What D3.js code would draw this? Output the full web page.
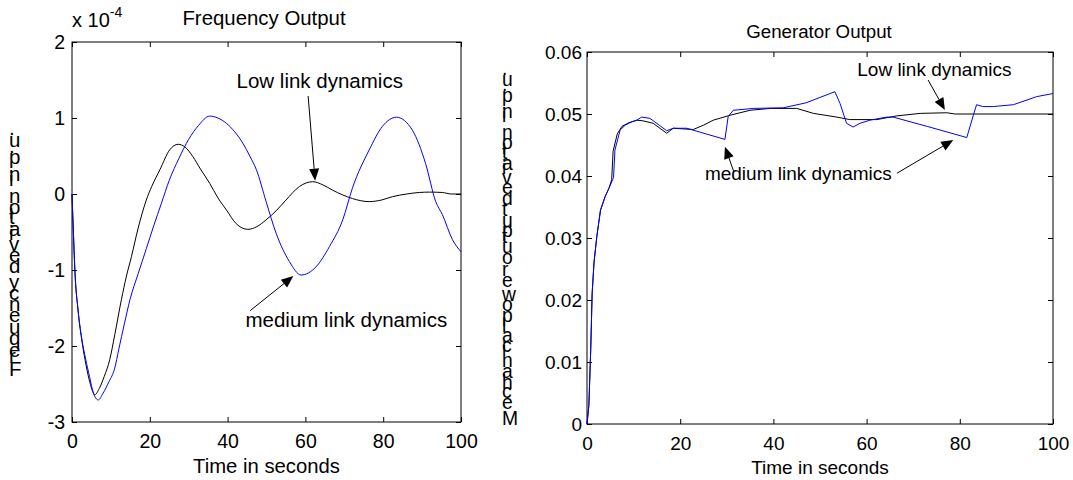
<!DOCTYPE html>
<html>
<head>
<meta charset="utf-8">
<script src="https://cdn.jsdelivr.net/npm/d3@7"></script>
<style>
  html, body { margin: 0; padding: 0; background: #fff; }
  svg { display: block; }
  text { font-family: "Liberation Sans", Arial, Helvetica, sans-serif; fill: #000; }
</style>
</head>
<body>
<svg id="chart" width="1073" height="480"></svg>
<script>
// ---- Frequency output (units of 1e-4) : [time s, deviation] ----
const freqLow = [
  [0,0],[0.4,-0.55],[0.8,-1.05],[1.6,-1.55],[2.6,-1.95],[3.6,-2.25],[4.6,-2.48],[5.9,-2.64],
  [7,-2.56],[8.3,-2.4],[9.7,-2.18],[11,-1.85],[12.7,-1.39],[14,-1.08],[15.3,-0.82],[17,-0.45],
  [19.1,-0.08],[20.5,0.1],[22.6,0.32],[25.1,0.58],[27.3,0.654],[29,0.62],[31.1,0.49],[33,0.33],
  [35.4,0.14],[37.5,-0.05],[39.7,-0.21],[42.2,-0.39],[45.2,-0.465],[47.5,-0.43],[49.9,-0.34],
  [52.5,-0.22],[55,-0.08],[58.5,0.1],[61.9,0.162],[64.5,0.12],[67,0.05],[69.5,-0.01],[72.1,-0.06],
  [76.4,-0.1],[79.5,-0.08],[82.4,-0.035],[86,0.0],[89.3,0.02],[92,0.025],[95.2,0.02],[97.5,0.0],[100,0]
];
const freqMedium = [
  [0,0],[0.35,-0.5],[0.7,-0.98],[1.5,-1.5],[2.5,-1.9],[3.5,-2.17],[4.5,-2.4],[5.5,-2.62],
  [6.75,-2.71],[8,-2.62],[9.5,-2.47],[11,-2.29],[12,-2.05],[13.5,-1.7],[14.9,-1.39],[17,-1.05],
  [19.1,-0.72],[21,-0.42],[23,-0.12],[25,0.18],[27.5,0.47],[30,0.72],[32.5,0.9],[35.4,1.025],
  [37.5,1.0],[39.7,0.93],[41.8,0.82],[43.9,0.67],[45.7,0.5],[47.4,0.32],[49.9,-0.1],[52.5,-0.52],
  [55.9,-0.89],[58.9,-1.066],[62.7,-0.96],[66.2,-0.69],[69.6,-0.34],[72.1,0.08],[76.4,0.58],
  [79.8,0.89],[83.4,1.01],[87.5,0.84],[90.9,0.4],[93.5,-0.1],[95.2,-0.27],[97.8,-0.6],[100,-0.76]
];

// ---- Generator (mechanical power) output : [time s, p.u.] ----
const genLow = [
  [0,0],[0.4,0.003],[0.8,0.012],[1.1,0.021],[1.5,0.026],[2.1,0.0302],[2.9,0.0345],[3.9,0.0367],
  [4.7,0.038],[5.3,0.0394],[5.6,0.044],[6.5,0.0468],[7.5,0.048],[9,0.0486],[10.7,0.049],[12,0.0489],
  [14.2,0.0485],[17.1,0.0469],[18.5,0.0477],[22.8,0.0475],[25,0.0482],[27.1,0.049],[30.7,0.0498],
  [35,0.0506],[39.3,0.0509],[45,0.0509],[48.6,0.0501],[53.6,0.0495],[56.4,0.0491],[62.2,0.0491],
  [66.5,0.0497],[71.5,0.0501],[77.2,0.0502],[79,0.05],[100,0.05]
];
const genMedium = [
  [0,0],[0.4,0.003],[0.8,0.012],[1.1,0.021],[1.5,0.026],[2.1,0.0302],[2.9,0.0345],[3.9,0.0367],
  [4.7,0.038],[5.5,0.0394],[5.7,0.0398],[6.0,0.0442],[7.1,0.0474],[8.2,0.0482],[9.5,0.0487],
  [10.7,0.049],[11.7,0.0495],[13.5,0.0493],[15.5,0.0482],[17.1,0.0473],[18.5,0.0477],[21.4,0.0477],
  [25.5,0.0468],[29.6,0.0459],[30.3,0.0496],[31.4,0.0506],[35.7,0.0509],[42.1,0.051],[47,0.0518],
  [53.2,0.0536],[54.3,0.0517],[55.7,0.0485],[57.1,0.0479],[58.6,0.0485],[60.7,0.049],[64.3,0.0495],
  [65.7,0.0495],[73,0.048],[81.5,0.0462],[82.9,0.0498],[83.6,0.0515],[84.9,0.0512],[87.2,0.0512],
  [91.5,0.0515],[96.5,0.0528],[100,0.0533]
];

// ---- Tick labels ----
const timeTicks = [0, 20, 40, 60, 80, 100];
const freqTicks = [-3, -2, -1, 0, 1, 2];
const genTicks = [0, 0.01, 0.02, 0.03, 0.04, 0.05, 0.06];

// ---- Annotation anchors (data units): text start, arrow tail, arrow tip ----
const freqNotes = [
  { label: "Low link dynamics", text: [42.3, 1.40], tail: [60.7, 1.29], tip: [62.5, 0.175] },
  { label: "medium link dynamics", text: [44.6, -1.755], tail: [45.8, -1.535], tip: [56.9, -1.08] }
];
const genNotes = [
  { label: "Low link dynamics", text: [58.0, 0.05613], arrows: [[[73.2, 0.05548], [76.8, 0.05065]]] },
  { label: "medium link dynamics", text: [25.3, 0.03935],
    arrows: [[[31.5, 0.0407], [29.6, 0.04473]], [[66.5, 0.04044], [78.6, 0.0458]]] }
];

const svg = d3.select("#chart");

function arrow(g, x1, y1, x2, y2) {
  const ang = Math.atan2(y2 - y1, x2 - x1);
  const L = 12, W = 5;
  const bx = x2 - L * Math.cos(ang), by = y2 - L * Math.sin(ang);
  g.append("line").attr("x1", x1).attr("y1", y1).attr("x2", bx).attr("y2", by)
    .attr("stroke", "#000").attr("stroke-width", 1);
  const px = -Math.sin(ang) * W, py = Math.cos(ang) * W;
  g.append("path")
    .attr("d", `M${x2},${y2}L${bx + px},${by + py}L${bx - px},${by - py}Z`)
    .attr("fill", "#000");
}

function panel(opt) {
  const x = d3.scaleLinear().domain([0, 100]).range([opt.x0, opt.x1]);
  const y = d3.scaleLinear().domain(opt.ydom).range([opt.y1, opt.y0]);
  const g = svg.append("g");
  const fs = opt.tickFont;

  // inward ticks on all four sides
  g.append("g").attr("transform", `translate(0,${opt.y1})`)
    .call(d3.axisBottom(x).tickValues(timeTicks).tickSizeInner(-5).tickSizeOuter(0)
      .tickPadding(opt.xPad).tickFormat(d => String(d)));
  g.append("g").attr("transform", `translate(${opt.x0},0)`)
    .call(d3.axisLeft(y).tickValues(opt.yTicks).tickSizeInner(-5).tickSizeOuter(0)
      .tickPadding(opt.yPad).tickFormat(opt.yFmt));
  g.append("g").attr("transform", `translate(0,${opt.y0})`)
    .call(d3.axisTop(x).tickValues(timeTicks).tickSizeInner(-5).tickSizeOuter(0).tickFormat(""));
  g.append("g").attr("transform", `translate(${opt.x1},0)`)
    .call(d3.axisRight(y).tickValues(opt.yTicks).tickSizeInner(-5).tickSizeOuter(0).tickFormat(""));
  g.selectAll(".domain").remove();
  g.selectAll(".tick line").attr("stroke", "#000");
  g.selectAll(".tick text").attr("font-size", fs).attr("font-family", null).attr("fill", "#000");

  g.append("rect").attr("x", opt.x0).attr("y", opt.y0)
    .attr("width", opt.x1 - opt.x0).attr("height", opt.y1 - opt.y0)
    .attr("fill", "none").attr("stroke", "#000").attr("stroke-width", 1);

  const line = d3.line().x(d => x(d[0])).y(d => y(d[1])).curve(opt.curve);
  g.append("path").datum(opt.low).attr("d", line)
    .attr("fill", "none").attr("stroke", "#000").attr("stroke-width", 1);
  g.append("path").datum(opt.medium).attr("d", line)
    .attr("fill", "none").attr("stroke", "#0000ff").attr("stroke-width", 1);

  // title and axis labels
  g.append("text").attr("x", opt.titleX).attr("y", opt.titleY).attr("text-anchor", "middle")
    .attr("font-size", opt.titleFont).text(opt.title);
  g.append("text").attr("x", (opt.x0 + opt.x1) / 2).attr("y", opt.xlabY).attr("text-anchor", "middle")
    .attr("font-size", opt.labFont).text("Time in seconds");
  // y label: baseline turned upward, glyphs kept upright
  g.append("text")
    .attr("transform", `translate(${opt.ylabX},${opt.ylabY}) rotate(-90)`)
    .attr("rotate", 90)
    .attr("font-size", opt.ylabFont)
    .text(opt.ylabel);

  return { g, x, y };
}

// left panel: frequency deviation
const P1 = panel({
  x0: 72, x1: 461, y0: 42, y1: 422, ydom: [-3, 2], yTicks: freqTicks, yFmt: d => String(d),
  low: freqLow, medium: freqMedium, curve: d3.curveMonotoneX,
  tickFont: 19.5, xPad: 12, yPad: 7,
  title: "Frequency Output", titleX: 264, titleY: 25, titleFont: 20.4,
  xlabY: 473, labFont: 20.3,
  ylabel: "Frequency deviation in p.u.", ylabX: 9, ylabY: 376, ylabFont: 20.5
});
// exponent marker above the y axis
const ex = P1.g.append("text").attr("x", 72).attr("y", 27).attr("font-size", 20);
ex.append("tspan").text("x 10");
ex.append("tspan").attr("dy", -10).attr("font-size", 14).text("-4");

freqNotes.forEach(n => {
  P1.g.append("text").attr("x", P1.x(n.text[0])).attr("y", P1.y(n.text[1]))
    .attr("font-size", 20.5).text(n.label);
  arrow(P1.g, P1.x(n.tail[0]), P1.y(n.tail[1]), P1.x(n.tip[0]), P1.y(n.tip[1]));
});

// right panel: generator (mechanical power) output
const P2 = panel({
  x0: 587, x1: 1053, y0: 52, y1: 424, ydom: [0, 0.06], yTicks: genTicks,
  yFmt: d => d === 0 ? "0" : d.toFixed(2),
  low: genLow, medium: genMedium, curve: d3.curveLinear,
  tickFont: 19, xPad: 12.5, yPad: 5,
  title: "Generator Output", titleX: 819, titleY: 38, titleFont: 18.7,
  xlabY: 474, labFont: 19,
  ylabel: "Mechanical power output deviation in p.u.", ylabX: 502, ylabY: 425, ylabFont: 19.3
});
genNotes.forEach(n => {
  P2.g.append("text").attr("x", P2.x(n.text[0])).attr("y", P2.y(n.text[1]))
    .attr("font-size", 19).text(n.label);
  n.arrows.forEach(a => arrow(P2.g, P2.x(a[0][0]), P2.y(a[0][1]), P2.x(a[1][0]), P2.y(a[1][1])));
});
</script>
</body>
</html>
